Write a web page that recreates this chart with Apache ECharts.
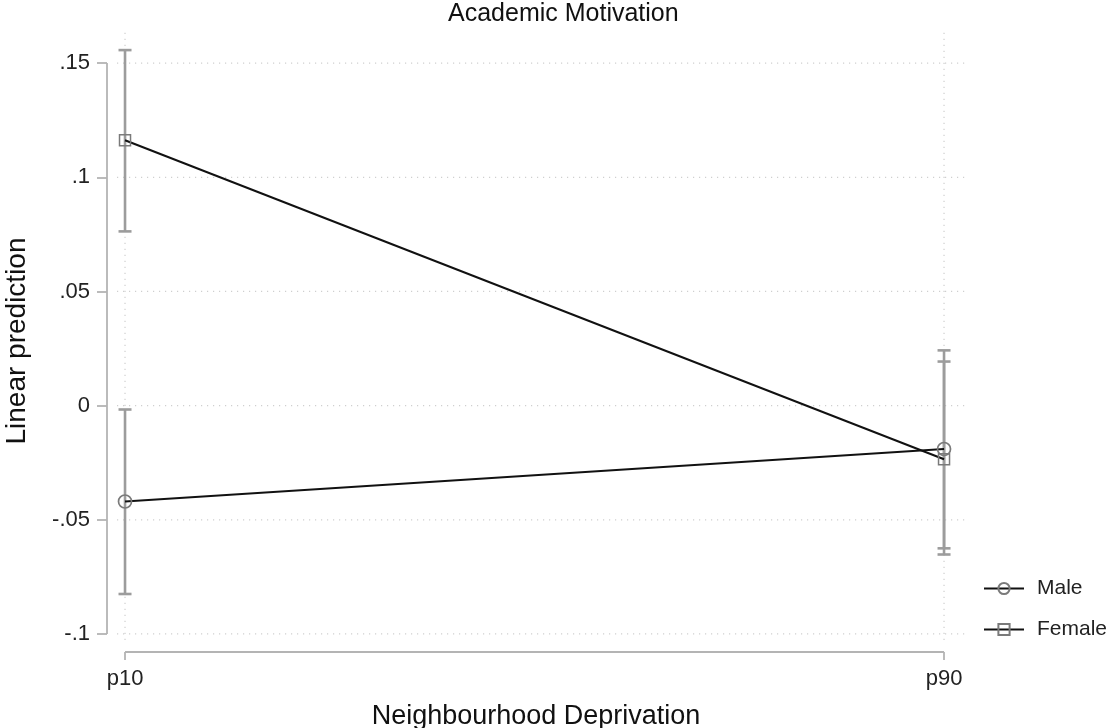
<!DOCTYPE html>
<html>
<head>
<meta charset="utf-8">
<script src="https://cdn.jsdelivr.net/npm/echarts@6/dist/echarts.min.js"></script>
<style>
html,body{margin:0;padding:0;background:#fff;}
#chart{width:1113px;height:728px;}
</style>
</head>
<body>
<div id="chart"></div>
<script>
// ---- data ----
const categories = ['p10', 'p90'];
const xPos = [0, 1];
const maleMean = [-0.042, -0.019];
const maleLow = [-0.0825, -0.0625];
const maleHigh = [-0.0017, 0.0242];
const femaleMean = [0.1162, -0.0235];
const femaleLow = [0.0763, -0.0652];
const femaleHigh = [0.1557, 0.0193];
const yTicks = [-0.1, -0.05, 0, 0.05, 0.1, 0.15];
const yTickLabels = ['-.1', '-.05', '0', '.05', '.1', '.15'];

// ---- layout constants (axis extents) ----
const X_LO = -0.022, X_HI = 1.0256;
const Y_LO = -0.1079, Y_HI = 0.1645;
const GRID_X_START = -0.0098, GRID_Y_END = -0.1026;
const FONT = 'Helvetica, Arial, "Liberation Sans", sans-serif';
const AXIS_GRAY = '#b4b4b4';
const BAR_GRAY = '#9c9c9c';
const MARK_GRAY = '#7a7a7a';
const GRID_GRAY = '#cfcfcf';

function pairs(xs, ys) { return xs.map((x, i) => [x, ys[i]]); }
function ciData(xs, lo, hi) { return xs.map((x, i) => [x, lo[i], hi[i]]); }

function errRender(params, api) {
  const x = api.value(0), lo = api.value(1), hi = api.value(2);
  const pH = api.coord([x, hi]), pL = api.coord([x, lo]);
  const hw = 6.5;
  const st = { stroke: BAR_GRAY, lineWidth: 2.6 };
  return {
    type: 'group',
    children: [
      { type: 'line', shape: { x1: pH[0], y1: pH[1], x2: pL[0], y2: pL[1] }, style: st },
      { type: 'line', shape: { x1: pH[0] - hw, y1: pH[1], x2: pH[0] + hw, y2: pH[1] }, style: st },
      { type: 'line', shape: { x1: pL[0] - hw, y1: pL[1], x2: pL[0] + hw, y2: pL[1] }, style: st }
    ]
  };
}

const helper = (data, style) => ({
  type: 'line', data: data, silent: true, symbol: 'none', clip: false,
  lineStyle: style, z: 1, animation: false, tooltip: { show: false }
});

const series = [];
// horizontal dotted gridlines
yTicks.forEach(v => series.push(helper([[GRID_X_START, v], [X_HI, v]],
  { color: GRID_GRAY, width: 1.2, type: [1.2, 4.8] })));
// vertical dotted gridlines
xPos.forEach(v => series.push(helper([[v, GRID_Y_END], [v, Y_HI]],
  { color: GRID_GRAY, width: 1.2, type: [1.2, 4.8] })));
// y axis line (only over tick range)
series.push(helper([[X_LO, yTicks[0]], [X_LO, yTicks[yTicks.length - 1]]],
  { color: AXIS_GRAY, width: 1.8 }));
// x axis line (only over category range)
series.push(helper([[xPos[0], Y_LO], [xPos[xPos.length - 1], Y_LO]],
  { color: AXIS_GRAY, width: 1.8 }));

series.push({
  type: 'custom', name: 'Male CI', renderItem: errRender, silent: true, z: 2,
  encode: { x: 0, y: [1, 2] }, data: ciData(xPos, maleLow, maleHigh)
});
series.push({
  type: 'custom', name: 'Female CI', renderItem: errRender, silent: true, z: 2,
  encode: { x: 0, y: [1, 2] }, data: ciData(xPos, femaleLow, femaleHigh)
});
series.push({
  type: 'line', name: 'Male', data: pairs(xPos, maleMean), z: 3,
  symbol: 'circle', symbolSize: 13,
  lineStyle: { color: '#111', width: 2 },
  itemStyle: { color: 'rgba(255,255,255,0)', borderColor: MARK_GRAY, borderWidth: 1.7 }
});
series.push({
  type: 'line', name: 'Female', data: pairs(xPos, femaleMean), z: 3,
  symbol: 'rect', symbolSize: 11,
  lineStyle: { color: '#111', width: 2 },
  itemStyle: { color: 'rgba(255,255,255,0)', borderColor: MARK_GRAY, borderWidth: 1.5 }
});

const chart = echarts.init(document.getElementById('chart'), null, { renderer: 'canvas' });
chart.setOption({
  animation: false,
  backgroundColor: '#fff',
  textStyle: { fontFamily: FONT },
  title: {
    text: 'Academic Motivation', left: 448, top: 2, padding: 0,
    textStyle: { fontFamily: FONT, fontSize: 25, fontWeight: 'normal', color: '#111' }
  },
  legend: {
    data: ['Male', 'Female'], orient: 'vertical', left: 983, top: 578, padding: 0,
    itemWidth: 40, itemHeight: 14, itemGap: 20,
    textStyle: { fontFamily: FONT, fontSize: 21, color: '#222', padding: [0, 0, 0, 8] }
  },
  grid: { left: 107, right: 148, top: 30, bottom: 76, containLabel: false, outerBoundsMode: 'none' },
  xAxis: {
    type: 'value', min: X_LO, max: X_HI, position: 'bottom',
    name: 'Neighbourhood Deprivation', nameLocation: 'middle', nameGap: 51,
    nameTextStyle: { fontFamily: FONT, fontSize: 27, color: '#111' },
    axisLine: { show: false, onZero: false },
    splitLine: { show: false },
    axisTick: { show: true, inside: false, customValues: xPos, length: 8, lineStyle: { color: AXIS_GRAY, width: 1.8 } },
    axisLabel: {
      customValues: xPos, margin: 16, fontFamily: FONT, fontSize: 22, color: '#222',
      formatter: v => { const i = xPos.indexOf(v); return i >= 0 ? categories[i] : ''; }
    }
  },
  yAxis: {
    type: 'value', min: Y_LO, max: Y_HI, position: 'left',
    name: 'Linear prediction', nameLocation: 'middle', nameGap: 76, nameRotate: 90,
    nameTextStyle: { fontFamily: FONT, fontSize: 28, color: '#111' },
    axisLine: { show: false, onZero: false },
    splitLine: { show: false },
    axisTick: { show: true, inside: false, customValues: yTicks, length: 10, lineStyle: { color: AXIS_GRAY, width: 1.8 } },
    axisLabel: {
      customValues: yTicks, margin: 17, fontFamily: FONT, fontSize: 22, color: '#222',
      formatter: v => { const i = yTicks.findIndex(t => Math.abs(t - v) < 1e-9); return i >= 0 ? yTickLabels[i] : ''; }
    }
  },
  series: series
});
</script>
</body>
</html>
